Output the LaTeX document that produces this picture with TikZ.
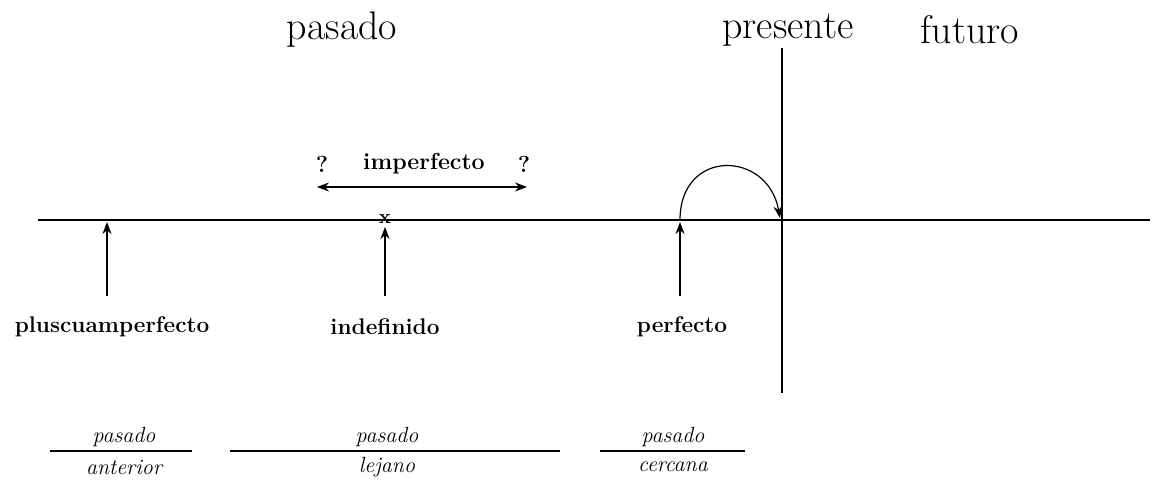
\documentclass[tikz,border=0pt]{standalone}
\usetikzlibrary{arrows.meta}
\begin{document}
\begin{tikzpicture}[x=0.5pt,y=-0.5pt,
  title/.style={font=\fontsize{20}{24}\selectfont, inner sep=0pt},
  tense/.style={font=\fontsize{11.3}{14}\selectfont\bfseries, inner sep=0pt},
  big/.style={font=\fontsize{11.6}{14}\selectfont\bfseries, inner sep=0pt},
  small/.style={font=\fontsize{11}{13}\selectfont\itshape, inner sep=0pt},
  axis/.style={line width=0.7pt},
  tip/.tip={Stealth[length=6pt,width=4.5pt]},
  pointer/.style={line width=0.6pt, -tip},
  bar/.style={line width=0.7pt}]
\useasboundingbox (0,0) rectangle (1160,480);
% axes
\coordinate (xl) at (38,220);
\coordinate (xr) at (1150,220);
\coordinate (yt) at (782,48);
\coordinate (yb) at (782,393);
\draw[axis] (xl) -- (xr);
\draw[axis] (yt) -- (yb);
% titles
\node[title] (tpas) at (342,30) {pasado};
\node[title] (tpre) at (788,30) {presente};
\node[title] (tfut) at (970,30) {futuro};
% imperfecto
\node[big] (q1) at (322,164) {?};
\node[big] (imp) at (424,164) {imperfecto};
\node[big] (q2) at (524,164) {?};
\coordinate (il) at (317,187);
\coordinate (ir) at (527,187);
\draw[line width=0.6pt, tip-tip] (il) -- (ir);
% x mark
\node[inner sep=0pt, font=\fontsize{10}{11}\selectfont\bfseries] (xm) at (385,219) {x};
% tense labels
\node[tense] (plus) at (112,327) {pluscuamperfecto};
\node[tense] (inde) at (385,327) {indefinido};
\node[tense] (perf) at (682,327) {perfecto};
\coordinate (pa) at (107,296);
\coordinate (pb) at (107,222);
\coordinate (ia) at (385,296);
\coordinate (ib) at (385,227);
\coordinate (fa) at (680,296);
\coordinate (fb) at (680,222);
\draw[pointer] (pa) -- (pb);
\draw[pointer] (ia) -- (ib);
\draw[pointer] (fa) -- (fb);
% arc
\coordinate (ca) at (680,220);
\coordinate (cb) at (780,218);
\draw[line width=0.6pt, -tip] (ca) .. controls (680,148) and (768,150) .. (cb);
% bottom fractions
\coordinate (b1l) at (50,451); \coordinate (b1r) at (192,451);
\coordinate (b2l) at (230,451); \coordinate (b2r) at (560,451);
\coordinate (b3l) at (600,451); \coordinate (b3r) at (745,451);
\draw[bar] (b1l) -- (b1r);
\draw[bar] (b2l) -- (b2r);
\draw[bar] (b3l) -- (b3r);
\node[small] (p1) at (124,437) {pasado};
\node[small] (a1) at (124,467) {anterior};
\node[small] (p2) at (387,437) {pasado};
\node[small] (a2) at (387,467) {lejano};
\node[small] (p3) at (673,437) {pasado};
\node[small] (a3) at (673,467) {cercana};
\end{tikzpicture}
\end{document}
